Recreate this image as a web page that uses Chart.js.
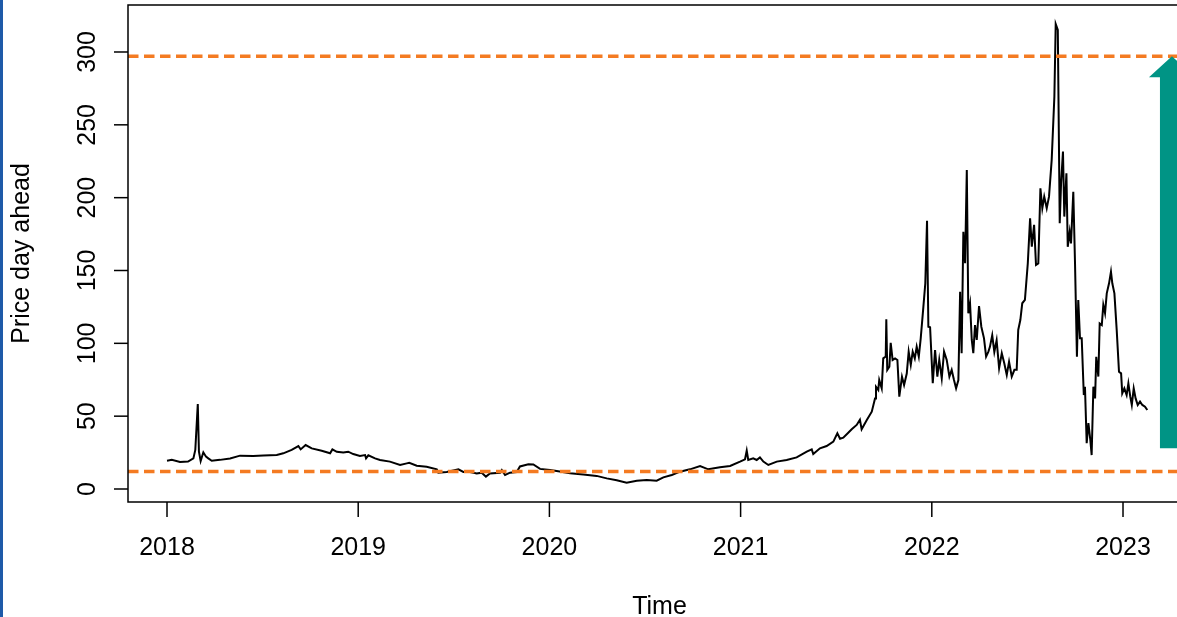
<!DOCTYPE html>
<html><head><meta charset="utf-8">
<script src="https://cdn.jsdelivr.net/npm/chart.js@4/dist/chart.umd.min.js"></script>
<style>
html,body{margin:0;padding:0;background:#fff;overflow:hidden;width:1177px;height:617px}
#wrap{position:absolute;left:0;top:0;width:1205px;height:617px}
#edge{position:absolute;left:0;top:0;width:3px;height:617px;background:#1e5aa8}
</style></head><body>
<div id="wrap"><canvas id="c" width="1205" height="617"></canvas></div>
<div id="edge"></div>
<script>
// decimal-year dates and day-ahead prices
const dates = [
2018.000,2018.025,2018.068,2018.110,2018.138,2018.148,2018.161,2018.167,2018.176,2018.190,
2018.204,2018.216,2018.234,2018.277,2018.330,2018.382,2018.451,2018.504,2018.574,2018.608,
2018.652,2018.687,2018.699,2018.725,2018.757,2018.809,2018.853,2018.865,2018.888,2018.922,
2018.948,2018.974,2019.009,2019.036,2019.041,2019.053,2019.088,2019.114,2019.166,2019.219,
2019.254,2019.267,2019.306,2019.358,2019.411,2019.419,2019.463,2019.524,2019.550,2019.585,
2019.620,2019.646,2019.668,2019.689,2019.742,2019.751,2019.768,2019.794,2019.829,2019.846,
2019.890,2019.916,2019.951,2020.003,2020.038,2020.108,2020.177,2020.247,2020.300,2020.352,
2020.404,2020.457,2020.509,2020.561,2020.596,2020.640,2020.683,2020.735,2020.788,2020.831,
2020.892,2020.945,2020.997,2021.023,2021.032,2021.040,2021.066,2021.084,2021.101,2021.119,
2021.145,2021.189,2021.241,2021.293,2021.346,2021.372,2021.380,2021.415,2021.450,2021.485,
2021.506,2021.520,2021.537,2021.563,2021.581,2021.607,2021.624,2021.633,2021.660,2021.686,
2021.703,2021.708,2021.720,2021.725,2021.738,2021.746,2021.759,2021.762,2021.767,2021.778,
2021.785,2021.795,2021.808,2021.820,2021.830,2021.844,2021.855,2021.869,2021.879,2021.890,
2021.900,2021.911,2021.921,2021.932,2021.942,2021.956,2021.966,2021.975,2021.982,2021.991,
2022.005,2022.017,2022.029,2022.039,2022.052,2022.064,2022.078,2022.092,2022.104,2022.116,
2022.127,2022.139,2022.148,2022.156,2022.165,2022.174,2022.183,2022.191,2022.200,2022.209,
2022.217,2022.226,2022.235,2022.247,2022.259,2022.273,2022.284,2022.296,2022.304,2022.316,
2022.327,2022.339,2022.352,2022.366,2022.379,2022.392,2022.404,2022.418,2022.432,2022.444,
2022.452,2022.463,2022.473,2022.487,2022.502,2022.514,2022.523,2022.535,2022.545,2022.557,
2022.568,2022.578,2022.588,2022.601,2022.613,2022.627,2022.641,2022.648,2022.659,2022.669,
2022.676,2022.686,2022.693,2022.704,2022.711,2022.721,2022.728,2022.740,2022.749,2022.759,
2022.766,2022.775,2022.784,2022.795,2022.801,2022.810,2022.819,2022.829,2022.836,2022.845,
2022.854,2022.860,2022.871,2022.878,2022.889,2022.897,2022.906,2022.915,2022.927,2022.937,
2022.944,2022.955,2022.967,2022.979,2022.990,2022.996,2023.007,2023.019,2023.028,2023.038,
2023.046,2023.056,2023.066,2023.077,2023.089,2023.101,2023.115,2023.127
];
const prices = [
19.4,20.0,18.5,18.8,21.0,26.8,58.3,25.6,19.2,25.2,
22.2,21.0,19.4,20.0,21.0,22.9,22.7,23.0,23.3,24.5,
26.8,29.5,27.2,30.2,27.9,26.3,24.5,27.2,25.5,25.0,
25.6,24.0,22.7,23.3,21.0,23.1,21.0,19.9,18.8,16.5,
17.6,18.0,16.0,15.3,13.5,11.2,11.7,13.5,11.7,11.7,
10.6,11.2,8.5,10.6,11.2,13.0,9.6,11.2,11.7,15.5,
17.0,16.8,13.8,13.0,12.3,10.8,10.0,9.0,7.3,6.0,
4.3,5.7,6.2,5.7,8.0,9.6,11.9,13.5,15.8,13.5,
14.9,15.8,18.8,20.4,26.3,19.9,21.0,19.9,21.7,18.8,
16.5,18.8,19.9,21.7,25.6,27.2,24.0,27.9,29.5,32.5,
38.2,34.5,35.2,38.6,41.0,44.0,47.6,41.0,47.4,53.1,
62.2,70.2,68.0,74.8,69.1,89.7,90.9,116.5,81.7,84.0,
100.4,88.6,89.7,88.6,63.4,77.1,71.4,79.3,94.3,85.2,
94.3,89.7,97.7,90.9,103.4,125.2,141.2,184.2,111.4,111.0,
72.6,95.4,77.1,88.6,76.0,94.3,88.6,77.1,81.7,74.8,
69.1,74.8,135.4,93.2,176.6,155.0,219.0,120.6,127.4,102.3,
93.2,112.5,102.3,125.6,111.4,103.4,90.9,94.3,97.6,105.5,
94.1,102.1,82.9,93.2,86.3,78.3,87.4,77.2,81.8,81.8,
109.2,116.0,127.5,129.8,154.9,185.8,166.4,181.3,153.8,154.9,
206.4,192.7,200.7,192.7,200.7,225.9,269.3,319.2,315.1,182.4,
209.8,231.6,187.0,216.7,166.3,176.6,168.6,204.1,154.9,90.8,
129.8,103.5,103.5,64.5,70.2,31.4,45.2,33.7,23.3,70.2,
62.2,90.8,77.2,113.7,112.6,126.4,120.7,134.3,141.2,149.2,
141.2,134.3,109.2,80.5,79.4,65.7,69.1,64.5,72.5,63.4,
57.7,69.1,62.2,57.7,60.0,57.7,56.5,54.2
];
const yearTicks = [2018, 2019, 2020, 2021, 2022, 2023];
const priceTicks = [0, 50, 100, 150, 200, 250, 300];
const upperLevel = 297;
const lowerLevel = 12;
const arrowAt = 2023.256, arrowFrom = 28, arrowTo = 297;
const xTitle = 'Time', yTitle = 'Price day ahead';

const FONT = '25px "Liberation Sans", Arial, Helvetica, sans-serif';
const ORANGE = '#f47b22', TEAL = '#009485';

const decor = {
  id: 'decor',
  afterDatasetsDraw(chart) {
    const ctx = chart.ctx, xs = chart.scales.x, ys = chart.scales.y, a = chart.chartArea;
    ctx.save();
    ctx.beginPath(); ctx.rect(a.left, a.top, a.right - a.left, a.bottom - a.top); ctx.clip();
    ctx.strokeStyle = ORANGE; ctx.lineWidth = 3.5; ctx.setLineDash([10.5, 5.5]); ctx.lineCap = 'butt';
    [upperLevel, lowerLevel].forEach(v => {
      const y = ys.getPixelForValue(v);
      ctx.beginPath(); ctx.moveTo(a.left, y); ctx.lineTo(a.right, y); ctx.stroke();
    });
    ctx.setLineDash([]);
    // arrow
    const cx = xs.getPixelForValue(arrowAt);
    const yb = ys.getPixelForValue(arrowFrom), yt = ys.getPixelForValue(arrowTo);
    const sw = 12, hw = 23, hh = 21;
    ctx.fillStyle = TEAL;
    ctx.beginPath();
    ctx.moveTo(cx - sw, yb); ctx.lineTo(cx - sw, yt + hh); ctx.lineTo(cx - hw, yt + hh);
    ctx.lineTo(cx, yt); ctx.lineTo(cx + hw, yt + hh); ctx.lineTo(cx + sw, yt + hh);
    ctx.lineTo(cx + sw, yb); ctx.closePath(); ctx.fill();
    ctx.restore();
  },
  afterDraw(chart) {
    const ctx = chart.ctx, xs = chart.scales.x, ys = chart.scales.y, a = chart.chartArea;
    ctx.save();
    ctx.strokeStyle = '#000'; ctx.lineWidth = 1.5;
    ctx.beginPath();
    ctx.moveTo(a.right + 5, a.top); ctx.lineTo(a.left, a.top); ctx.lineTo(a.left, a.bottom); ctx.lineTo(a.right + 5, a.bottom);
    ctx.stroke();
    ctx.fillStyle = '#000'; ctx.font = FONT;
    ctx.textAlign = 'center'; ctx.textBaseline = 'middle';
    yearTicks.forEach(t => {
      const x = xs.getPixelForValue(t);
      ctx.beginPath(); ctx.moveTo(x, a.bottom); ctx.lineTo(x, a.bottom + 15); ctx.stroke();
      ctx.fillText(String(t), x, 548);
    });
    priceTicks.forEach(v => {
      const y = ys.getPixelForValue(v);
      ctx.beginPath(); ctx.moveTo(a.left, y); ctx.lineTo(a.left - 14, y); ctx.stroke();
      ctx.save(); ctx.translate(88, y); ctx.rotate(-Math.PI / 2); ctx.fillText(String(v), 0, 0); ctx.restore();
    });
    ctx.fillText(xTitle, (a.left + a.right) / 2, 607);
    ctx.save(); ctx.translate(22, (a.top + a.bottom) / 2); ctx.rotate(-Math.PI / 2); ctx.fillText(yTitle, 0, 0); ctx.restore();
    ctx.restore();
  }
};

new Chart(document.getElementById('c'), {
  type: 'line',
  data: { datasets: [{
    data: dates.map((d, i) => ({ x: d, y: prices[i] })),
    borderColor: '#000', borderWidth: 2, pointRadius: 0, tension: 0, fill: false
  }]},
  options: {
    responsive: false, animation: false, devicePixelRatio: 1,
    layout: { padding: { top: 5, right: 14, left: 0, bottom: 0 } },
    plugins: { legend: { display: false }, tooltip: { enabled: false } },
    scales: {
      x: { type: 'linear', min: 2017.796, max: 2023.3556,
           grid: { display: false }, border: { display: false }, ticks: { display: false },
           afterFit(s) { s.height = 115; } },
      y: { type: 'linear', min: -8.924, max: 332.26,
           grid: { display: false }, border: { display: false }, ticks: { display: false },
           afterFit(s) { s.width = 128; } }
    }
  },
  plugins: [decor]
});
</script>
</body></html>
